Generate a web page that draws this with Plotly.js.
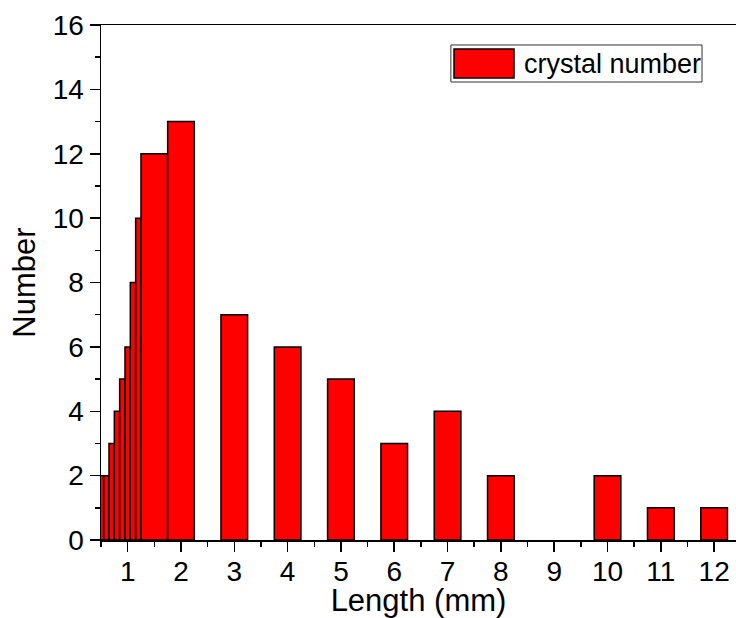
<!DOCTYPE html>
<html>
<head>
<meta charset="utf-8">
<script src="https://cdn.plot.ly/plotly-3.0.1.min.js"></script>
<style>
  html, body { margin: 0; padding: 0; background: #fff; overflow: hidden; }
  #chart { width: 736px; height: 618px; }
</style>
</head>
<body>
<div id="chart"></div>
<script>
// Crystal length bins (mm), bin widths (mm) and counts
const lengths = [0.5, 0.6, 0.7, 0.8, 0.9, 1.0, 1.1, 1.2, 1.5, 2, 3, 4, 5, 6, 7, 8, 10, 11, 12];
const binWidths = [0.1, 0.1, 0.1, 0.1, 0.1, 0.1, 0.1, 0.1, 0.5, 0.5, 0.5, 0.5, 0.5, 0.5, 0.5, 0.5, 0.5, 0.5, 0.5];
const counts = [2, 2, 3, 4, 5, 6, 8, 10, 12, 13, 7, 6, 5, 3, 4, 2, 2, 1, 1];
const xTicks = [1, 2, 3, 4, 5, 6, 7, 8, 9, 10, 11, 12];
const yTicks = [0, 2, 4, 6, 8, 10, 12, 14, 16];
const seriesName = 'crystal number';

const FONT = 'Liberation Sans, Arial, sans-serif';

const trace = {
  type: 'bar',
  x: lengths,
  y: counts,
  width: binWidths,
  name: seriesName,
  marker: { color: '#FF0000', line: { color: '#000000', width: 1.5 } },
  showlegend: false,
  hoverinfo: 'x+y'
};

const layout = {
  width: 736,
  height: 618,
  margin: { l: 101, r: 0, t: 25, b: 78, pad: 0 },
  paper_bgcolor: '#ffffff',
  plot_bgcolor: '#ffffff',
  font: { family: FONT, color: '#000000' },
  bargap: 0,
  xaxis: {
    range: [0.5, 12.41],
    tickvals: xTicks,
    ticktext: xTicks.map(String),
    ticks: 'outside',
    ticklen: 10,
    tickwidth: 1.5,
    tickcolor: '#000',
    ticklabelstandoff: -4,
    minor: { dtick: 0.5, tick0: 0, ticks: 'outside', ticklen: 5, tickwidth: 1.5, tickcolor: '#000' },
    showline: true,
    linecolor: '#000',
    linewidth: 1.5,
    mirror: true,
    showgrid: false,
    zeroline: false,
    tickfont: { family: FONT, size: 28, color: '#000' },
    title: { text: 'Length (mm)', font: { family: FONT, size: 31, color: '#000' }, standoff: 3 },
    automargin: false
  },
  yaxis: {
    range: [0, 16],
    tickvals: yTicks,
    ticktext: yTicks.map(String),
    ticks: 'outside',
    ticklen: 10,
    tickwidth: 1.5,
    tickcolor: '#000',
    minor: { dtick: 1, tick0: 0, ticks: 'outside', ticklen: 5, tickwidth: 1.5, tickcolor: '#000' },
    showline: true,
    linecolor: '#000',
    linewidth: 1.5,
    mirror: false,
    showgrid: false,
    zeroline: false,
    tickfont: { family: FONT, size: 28, color: '#000' },
    title: { text: 'Number', font: { family: FONT, size: 31, color: '#000' }, standoff: 8 },
    automargin: false
  },
  shapes: [
    { type: 'rect', xref: 'paper', yref: 'paper', x0: 0.551, x1: 0.9465, y0: 0.8893, y1: 0.9612,
      line: { color: '#333', width: 1 }, fillcolor: '#fff', layer: 'above' },
    { type: 'rect', xref: 'paper', yref: 'paper', x0: 0.5559, x1: 0.6504, y0: 0.8970, y1: 0.9534,
      line: { color: '#000', width: 1.5 }, fillcolor: '#FF0000', layer: 'above' }
  ],
  annotations: [
    { xref: 'paper', yref: 'paper', x: 0.663, y: 0.9252, xanchor: 'left', yanchor: 'middle',
      text: seriesName, showarrow: false, font: { family: FONT, size: 27, color: '#000' } }
  ]
};

Plotly.newPlot('chart', [trace], layout, { displayModeBar: false, staticPlot: true });
</script>
</body>
</html>
